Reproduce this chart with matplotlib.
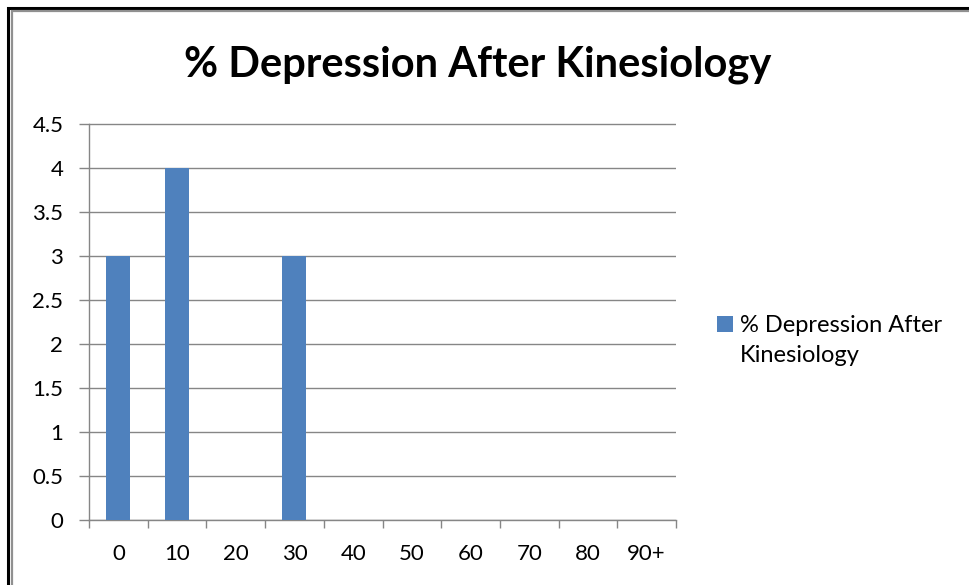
import matplotlib
matplotlib.use("Agg")
import matplotlib.pyplot as plt
from matplotlib.patches import Rectangle

categories = ["0", "10", "20", "30", "40", "50", "60", "70", "80", "90+"]
values = [3, 4, 0, 3, 0, 0, 0, 0, 0, 0]
yticks = [0, 0.5, 1, 1.5, 2, 2.5, 3, 3.5, 4, 4.5]
ytick_labels = ["0", "0.5", "1", "1.5", "2", "2.5", "3", "3.5", "4", "4.5"]
title = "% Depression After Kinesiology"
series_name = "% Depression After\nKinesiology"
bar_color = '#4F81BD'

plt.rcParams['font.family'] = ['Lato', 'DejaVu Sans']
W, H = 969, 585
fig = plt.figure(figsize=(W/100, H/100), dpi=100)

# frame lines
fig.patches.append(Rectangle((7.5/W, -0.1), 1.2, (H-8.5)/H + 0.1, transform=fig.transFigure,
                             fill=False, edgecolor='black', linewidth=2.2))
fig.patches.append(Rectangle((12/W, -0.1), 1.2, (H-11)/H + 0.1, transform=fig.transFigure,
                             fill=False, edgecolor='#909090', linewidth=1.6))

x0, x1 = 89, 676
y0, y1 = 520, 123.5
ax = fig.add_axes([x0/W, (H-y0)/H, (x1-x0)/W, (y0-y1)/H])
xs = list(range(len(categories)))
bars = ax.bar(xs, values, width=0.41, color=bar_color, zorder=3)
ax.set_xlim(-0.5, len(categories)-0.5)
ax.set_ylim(0, 4.5)
ax.set_yticks(yticks)
ax.set_yticklabels(ytick_labels)
ax.set_xticks(xs)
ax.set_xticklabels(categories)
ax.set_xticks([i - 0.5 for i in range(len(categories)+1)], minor=True)
ax.tick_params(axis='x', which='major', length=0, pad=17, labelsize=16)
ax.tick_params(axis='x', which='minor', length=6, color='#868686', width=1)
ax.tick_params(axis='y', length=7.5, color='#868686', width=1, pad=11, labelsize=16)
ax.grid(axis='y', color='#868686', linewidth=1, zorder=0)
for s in ['top', 'right']:
    ax.spines[s].set_visible(False)
for s in ['left', 'bottom']:
    ax.spines[s].set_color('#868686')
    ax.spines[s].set_linewidth(1)

fig.text(478/W, 1 - 76/H, title, ha='center', va='baseline', fontsize=30, fontweight='bold')

# legend
fig.patches.append(Rectangle((717/W, 1 - 332/H), 16/W, 16/H, transform=fig.transFigure,
                             facecolor=bar_color, edgecolor='none'))
for i, line in enumerate(series_name.split("\n")):
    fig.text(740/W, 1 - (332 + 30*i)/H, line, ha='left', va='baseline', fontsize=17)

fig.savefig("out.png", dpi=100)
